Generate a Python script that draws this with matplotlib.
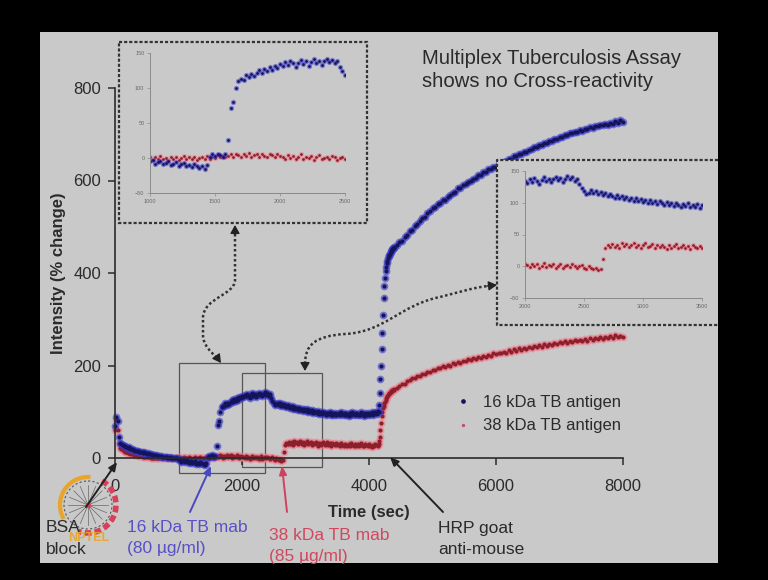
import numpy as np
import matplotlib.pyplot as plt
from matplotlib.patches import Rectangle, PathPatch, Circle, Arc
from matplotlib.path import Path

plt.rcParams['font.family'] = ['Liberation Sans', 'DejaVu Sans']

# ---- data (time in sec, intensity in % change) ----
t_early = np.arange(0, 981, 20)
blue_early = [70, 88, 80, 45, 32, 30, 28, 27, 26, 24,
              22, 23, 20, 19, 18, 18, 16, 15, 15, 13,
              14, 12, 11, 12, 10, 9, 10, 8, 8, 7,
              7, 6, 6, 5, 5, 4, 5, 3, 3, 2,
              3, 2, 1, 2, 1, 0, 1, 0, -1, 0]
red_early = [60, 82, 60, 30, 22, 20, 17, 15, 14, 12,
             11, 10, 9, 8, 8, 7, 6, 6, 5, 5,
             4, 4, 3, 3, 3, 2, 2, 2, 1, 1,
             1, 1, 0, 1, 0, 0, 0, -1, 0, 0,
             0, -1, 0, 0, -1, 0, 0, -1, 0, 0]

# 1000-3500 s, also shown enlarged in the two insets
t_mid = np.arange(1000, 3501, 20)
blue_mid = ([-5, -3, -8, -6, -4, -9, -7, -5, -10, -8, -6, -11, -9, -7, -12, -10, -13, -8, -11, -14, -12, -16, -10]
            + [2, 5, 3, 6, 4, 2, 5]
            + [25, 72, 80, 100, 110, 113]
            + [112, 118, 115, 120, 117, 122, 125, 121, 127, 124, 130, 126, 132, 129, 134]
            + [131, 137, 133, 139, 135, 130, 136, 140, 134, 138, 132, 137, 141, 136, 139, 133, 138, 142, 137, 140, 135, 138]
            + [130, 124, 118, 114, 116]
            + [120, 115, 118, 113, 117, 112, 115, 110, 114, 111, 108, 112, 107, 110, 106, 109,
               104, 108, 103, 107, 102, 106, 101, 105, 100, 104, 99, 103, 98, 102, 99, 97,
               101, 96, 100, 95, 99, 97, 94, 98, 95, 99, 93, 97, 94, 98, 92, 96])
red_mid = ([2, -3, 1, -2, 3, -1, 0, -4, 2, -2, 1, -3, 0, 3, -2, 1, -1, 2, -3, 0, 1, -2, 3, -1, 2, 0, 4, 1, 3, 2]
           + [3, 5, 2, 6, 4, 1, 5, 3, 7, 2, 4, 6, 1, 5, 3, 2, 6, 4, 1, 5, 3]
           + [2, -1, 4, 0, 3, -2, 1, 5, -1, 2, 0, 3, -3, 1, 4, -2, 0, 2, -1, 3, 1, -3, 0, 2, -2, -4, 0, -3, -5, -2, -6, -4]
           + [12]
           + [28, 33, 30, 35, 31, 34, 29, 36, 32, 35, 30, 33, 37, 31, 34, 29, 33, 36, 30, 32, 35,
              28, 33, 31, 34, 30, 27, 33, 29, 32, 35, 28, 31, 34, 29, 32, 27, 33, 30, 28, 32, 29])

t_late1 = np.arange(3520, 4141, 20)
blue_late1 = [97, 93, 99, 95, 92, 98, 94, 96, 91, 97, 93, 99, 95, 92, 98, 94,
              96, 93, 99, 95, 91, 97, 94, 98, 92, 96, 100, 94, 97, 99, 95, 102]
red_late1 = [30, 27, 32, 28, 25, 31, 29, 26, 30, 27, 33, 28, 25, 30, 27, 31,
             26, 29, 32, 27, 25, 30, 28, 26, 31, 27, 24, 29, 26, 30, 28, 27]

# HRP goat anti-mouse added
t_rise = np.arange(4150, 4401, 10)
blue_rise = [100, 115, 140, 170, 200, 235, 270, 310, 345, 372, 390, 405, 414,
             421, 427, 432, 436, 439, 442, 445, 447, 449, 451, 453, 455, 457]
red_rise = [30, 36, 45, 60, 75, 90, 100, 108, 113, 118, 122, 126, 129,
            132, 134, 136, 138, 140, 141, 143, 144, 145, 146, 147, 148, 149]

t_late2 = np.arange(4440, 8001, 40)
blue_late2 = [460, 466, 470, 478, 483, 490, 494, 502, 506, 512,
              518, 522, 530, 533, 540, 543, 549, 552, 557, 558,
              565, 568, 574, 576, 583, 584, 590, 592, 597, 598,
              604, 605, 611, 612, 618, 619, 624, 625, 630, 630,
              635, 636, 641, 642, 647, 647, 652, 653, 657, 658,
              662, 662, 667, 668, 672, 672, 677, 677, 681, 682,
              685, 686, 690, 690, 694, 694, 698, 698, 702, 702,
              705, 705, 709, 708, 712, 711, 715, 714, 718, 717,
              721, 719, 723, 721, 725, 723, 728, 725, 730, 727]
red_late2 = [152, 155, 160, 161, 167, 168, 172, 172, 177, 178,
             182, 181, 186, 186, 191, 190, 195, 194, 199, 197,
             202, 200, 205, 203, 208, 206, 210, 209, 213, 211,
             216, 214, 218, 216, 221, 219, 223, 221, 226, 224,
             228, 226, 230, 228, 233, 230, 235, 232, 237, 234,
             238, 236, 240, 238, 242, 240, 244, 241, 246, 243,
             247, 245, 249, 246, 250, 248, 252, 249, 254, 251,
             255, 252, 256, 253, 258, 254, 259, 256, 260, 257,
             261, 258, 262, 259, 263, 260, 265, 261, 264, 262]

x_ticks = [0, 2000, 4000, 6000, 8000]
y_ticks = [0, 200, 400, 600, 800]

t_all = np.concatenate([t_early, t_mid, t_late1, t_rise, t_late2])
blue_all = np.array(blue_early + blue_mid + blue_late1 + blue_rise + blue_late2, dtype=float)
red_all = np.array(red_early + red_mid + red_late1 + red_rise + red_late2, dtype=float)
assert len(t_all) == len(blue_all) == len(red_all)

SLIDE = '#c9c9c9'
INK = '#2b2b2b'
BLUE_CORE, BLUE_GLOW = '#14145a', '#3a3ad0'
RED_CORE, RED_GLOW = '#8c1f2c', '#f07c8c'

W, H = 768, 580


def fx(px):
    return px / W


def fy(py):
    return 1 - py / H


fig = plt.figure(figsize=(7.68, 5.8), dpi=100, facecolor='black')
fig.add_artist(Rectangle((fx(40), fy(563)), (718 - 40) / W, (563 - 32) / H,
                         transform=fig.transFigure, facecolor=SLIDE,
                         edgecolor='none', zorder=-10))

# ---- main chart ----
ax = fig.add_axes([fx(115), fy(458), (623 - 115) / W, (458 - 88) / H], zorder=1)
ax.set_facecolor('none')
ax.plot(t_all, red_all, 'o', ms=5.6, color=RED_GLOW, alpha=0.6, mew=0, clip_on=False)
ax.plot(t_all, red_all, 'o', ms=3.0, color=RED_CORE, mew=0, clip_on=False)
ax.plot(t_all, blue_all, 'o', ms=5.6, color=BLUE_GLOW, alpha=0.6, mew=0, clip_on=False)
ax.plot(t_all, blue_all, 'o', ms=3.0, color=BLUE_CORE, mew=0, clip_on=False)

ax.set_xlim(0, 8000)
ax.set_ylim(0, 800)
ax.set_xticks(x_ticks)
ax.set_yticks(y_ticks)
for s in ['top', 'right']:
    ax.spines[s].set_visible(False)
for s in ['left', 'bottom']:
    ax.spines[s].set_color(INK)
    ax.spines[s].set_linewidth(1.2)
ax.tick_params(direction='out', length=5, width=1.1, colors=INK, labelsize=12)
ax.tick_params(axis='x', pad=10)
ax.tick_params(axis='y', pad=5)
ax.set_xlabel('Time (sec)', fontsize=12, fontweight='bold', color=INK, labelpad=8)
ax.set_ylabel('Intensity (% change)', fontsize=12, fontweight='bold', color=INK, labelpad=5)

# zoom boxes
ax.add_patch(Rectangle((1000, -32), 1370, 237, fill=False, ec='#555555', lw=0.9, clip_on=False))
ax.add_patch(Rectangle((2000, -19), 1260, 203, fill=False, ec='#555555', lw=0.9, clip_on=False))

hb, = ax.plot([], [], 'o', ms=3.4, color=BLUE_CORE, mew=0)
hr, = ax.plot([], [], 'o', ms=2.4, color='#c05060', mew=0)
ax.legend([hb, hr], ['16 kDa TB antigen', '38 kDa TB antigen'],
          loc='upper left', bbox_to_anchor=(fx(458), fy(395)),
          bbox_transform=fig.transFigure, frameon=False, fontsize=12,
          handlelength=0.6, handletextpad=0.9, labelspacing=0.5,
          borderpad=0, borderaxespad=0, labelcolor=INK, numpoints=1)

# ---- overlay for slide decorations (pixel coordinates) ----
ov = fig.add_axes([0, 0, 1, 1], zorder=2)
ov.set_xlim(0, W)
ov.set_ylim(H, 0)
ov.axis('off')
ov.set_facecolor('none')

dash = (0, (1.4, 0.9))
ov.add_patch(Rectangle((119, 42), 248, 181, facecolor=SLIDE, edgecolor='#333333',
                       lw=1.6, linestyle=dash))
ov.add_patch(Rectangle((497, 160), 221, 165, facecolor=SLIDE, edgecolor='none'))
ov.plot([718, 497, 497, 718], [160, 160, 325, 325], color='#333333', lw=1.6, linestyle=dash)

# curved dotted connectors
M, L, C = Path.MOVETO, Path.LINETO, Path.CURVE4
p1 = Path([(235, 234), (235, 280), (235, 295), (203, 298), (203, 318),
           (203, 335), (203, 345), (211, 352), (217, 358)],
          [M, L, C, C, C, L, C, C, C])
p2 = Path([(305, 364), (305, 345), (315, 336), (345, 334),
           (385, 332), (400, 305), (440, 297),
           (460, 292), (475, 287), (489, 286)],
          [M, C, C, C, C, C, C, C, C, C])
for p in (p1, p2):
    ov.add_patch(PathPatch(p, fill=False, ec='#333333', lw=1.8, linestyle=(0, (1, 1))))
heads = [((235, 225), (235, 235)), ((221, 363), (216, 356)),
         ((305, 371), (305, 362)), ((497, 285), (487, 286))]
for tip, tail in heads:
    ov.annotate('', xy=tip, xytext=tail,
                arrowprops=dict(arrowstyle='-|>,head_length=0.5,head_width=0.28',
                                color='#222222', lw=1, shrinkA=0, shrinkB=0))

# title
ov.text(422, 64, 'Multiplex Tuberculosis Assay', fontsize=14.6, color=INK, va='baseline')
ov.text(422, 87, 'shows no Cross-reactivity', fontsize=14.6, color=INK, va='baseline')

# NPTEL watermark
ov.add_patch(Circle((88, 505), 24, fill=False, ec='#555555', lw=0.8, linestyle=(0, (2, 2))))
ov.add_patch(Arc((88, 505), 56, 56, theta1=150, theta2=275, color='#e8a52a', lw=3))
ov.add_patch(Arc((88, 505), 56, 56, theta1=-60, theta2=110, color='#d8405a', lw=4,
                 linestyle=(0, (1.2, 0.6))))
for ang in np.deg2rad(np.arange(0, 180, 22.5)):
    ov.plot([88 - 20 * np.cos(ang), 88 + 20 * np.cos(ang)],
            [505 - 20 * np.sin(ang), 505 + 20 * np.sin(ang)], color='#666666', lw=0.5)
ov.plot([88], [505], 'o', ms=4, color='#e0405a', mew=0)
ov.text(89, 538, 'NPTEL', fontsize=9, fontweight='bold', color='#e8a52a', ha='center',
        va='center', alpha=0.9)

# reagent annotations
notes = [
    (46, 527, 'BSA', INK), (46, 549, 'block', INK),
    (127, 528, '16 kDa TB mab', '#5850c8'), (127, 549, '(80 µg/ml)', '#5850c8'),
    (269, 535, '38 kDa TB mab', '#d0485e'), (269, 556, '(85 µg/ml)', '#d0485e'),
    (438, 528, 'HRP goat', INK), (438, 550, 'anti-mouse', INK),
]
for x, y, s, c in notes:
    ov.text(x, y, s, fontsize=12.5, color=c, va='center', ha='left')

pointers = [((86, 507), (117, 462), '#222222'),
            ((190, 512), (211, 466), '#4848c0'),
            ((287, 512), (282, 466), '#d04060'),
            ((443, 512), (390, 457), '#222222')]
for tail, tip, c in pointers:
    ov.annotate('', xy=tip, xytext=tail,
                arrowprops=dict(arrowstyle='-|>,head_length=0.5,head_width=0.22',
                                color=c, lw=1.4, shrinkA=0, shrinkB=0))


# ---- insets ----
def inset(l, t, r, b, xlim, xt, mask):
    a = fig.add_axes([fx(l), fy(b), (r - l) / W, (b - t) / H], zorder=3)
    a.set_facecolor('none')
    tm = t_mid[mask]
    rv = np.array(red_mid)[mask]
    bv = np.array(blue_mid)[mask]
    a.plot(tm, rv, 'o', ms=3.8, color=RED_GLOW, alpha=0.55, mew=0)
    a.plot(tm, rv, 'o', ms=2.0, color=RED_CORE, mew=0)
    a.plot(tm, bv, 'o', ms=3.8, color=BLUE_GLOW, alpha=0.55, mew=0)
    a.plot(tm, bv, 'o', ms=2.0, color=BLUE_CORE, mew=0)
    a.set_xlim(*xlim)
    a.set_ylim(-50, 150)
    a.set_xticks(xt)
    a.set_yticks([-50, 0, 50, 100, 150])
    for s in ['top', 'right']:
        a.spines[s].set_visible(False)
    for s in ['left', 'bottom']:
        a.spines[s].set_color('#8a8a8a')
        a.spines[s].set_linewidth(0.7)
    a.tick_params(length=2, width=0.5, colors='#8a8a8a', labelsize=4, labelcolor='#6a6a6a', pad=2)
    return a


inset(150, 53, 345, 193, (1000, 2500), [1000, 1500, 2000, 2500], t_mid <= 2500)
inset(525, 171, 702, 298, (2000, 3500), [2000, 2500, 3000, 3500], t_mid >= 2000)

fig.savefig('out.png', dpi=100, facecolor='black')
